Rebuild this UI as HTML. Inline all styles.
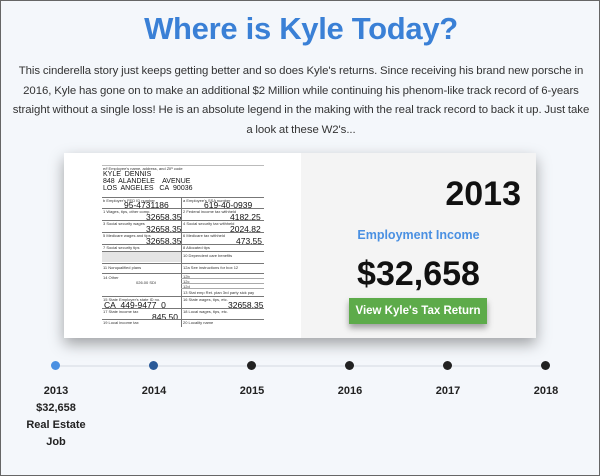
<!DOCTYPE html>
<html><head><meta charset="utf-8"><style>
*{margin:0;padding:0;box-sizing:border-box}
body{width:600px;height:476px;background:#f4f7fb;font-family:"Liberation Sans",sans-serif;position:relative;overflow:hidden;border:1px solid #666}
.a{position:absolute}
h1{position:absolute;left:0;width:600px;top:10px;text-align:center;font-size:31px;font-weight:bold;color:#3a80d6;letter-spacing:-0.3px}
.p{position:absolute;left:0;width:600px;top:61px;text-align:center;font-size:11.4px;line-height:19.5px;color:#333;word-spacing:-0.3px;letter-spacing:-0.05px;white-space:nowrap}
.card{position:absolute;left:63px;top:152px;width:472px;height:185px;background:#fff;box-shadow:0 6px 14px rgba(0,0,0,.35)}
.right{position:absolute;left:237px;top:0;width:235px;height:185px;background:#f4f4f4}
.f{position:absolute;font-size:4px;color:#333;white-space:nowrap}
.v{position:absolute;font-size:8.5px;color:#111;white-space:nowrap}
.hl{position:absolute;height:1px;background:#777}
.vl{position:absolute;width:1px;background:#777}
.dot{position:absolute;top:360px;width:9px;height:9px;border-radius:50%;background:#222}
.lb{position:absolute;width:80px;text-align:center;font-size:11px;font-weight:bold;color:#222}
</style></head><body>
<h1>Where is Kyle Today?</h1>
<div class="p">This cinderella story just keeps getting better and so does Kyle's returns. Since receiving his brand new porsche in<br>2016, Kyle has gone on to make an additional $2 Million while continuing his phenom-like track record of 6-years<br>straight without a single loss! He is an absolute legend in the making with the real track record to back it up. Just take<br>a look at these W2's...</div>
<div class="card">
 <div class="hl" style="left:38px;top:12px;width:162px;background:#bbb"></div>
 <div class="f" style="left:39px;top:13px">e/f Employee's name, address, and ZIP code</div>
 <div class="v" style="left:39px;top:18px;font-size:7px">KYLE&nbsp; DENNIS</div>
 <div class="v" style="left:39px;top:25px;font-size:7px">848&nbsp; ALANDELE&nbsp;&nbsp;&nbsp; AVENUE</div>
 <div class="v" style="left:39px;top:32px;font-size:7px">LOS&nbsp; ANGELES&nbsp;&nbsp; CA&nbsp; 90036</div>
 <div class="hl" style="left:38px;top:44px;width:162px"></div>
 <div class="vl" style="left:117px;top:44px;height:130px"></div>
 <div class="f" style="left:39px;top:45px">b Employer's FED ID number</div><div class="v" style="left:60px;top:47px">95-4731186</div>
 <div class="f" style="left:119px;top:45px">a Employee's SSA number</div><div class="v" style="left:140px;top:47px">619-40-0939</div>
 <div class="hl" style="left:38px;top:55px;width:162px"></div>
 <div class="f" style="left:39px;top:56px">1 Wages, tips, other comp.</div><div class="v" style="left:82px;top:59px">32658.35</div>
 <div class="f" style="left:119px;top:56px">2 Federal income tax withheld</div><div class="v" style="left:166px;top:59px">4182.25</div>
 <div class="hl" style="left:38px;top:67px;width:162px"></div>
 <div class="f" style="left:39px;top:68px">3 Social security wages</div><div class="v" style="left:82px;top:71px">32658.35</div>
 <div class="f" style="left:119px;top:68px">4 Social security tax withheld</div><div class="v" style="left:166px;top:71px">2024.82</div>
 <div class="hl" style="left:38px;top:79px;width:162px"></div>
 <div class="f" style="left:39px;top:80px">5 Medicare wages and tips</div><div class="v" style="left:82px;top:83px">32658.35</div>
 <div class="f" style="left:119px;top:80px">6 Medicare tax withheld</div><div class="v" style="left:172px;top:83px">473.55</div>
 <div class="hl" style="left:38px;top:91px;width:162px"></div>
 <div class="f" style="left:39px;top:92px">7 Social security tips</div><div class="f" style="left:119px;top:92px">8 Allocated tips</div>
 <div class="hl" style="left:38px;top:98px;width:162px"></div>
 <div class="a" style="left:38px;top:99px;width:79px;height:10px;background:#e4e4e4"></div>
 <div class="f" style="left:119px;top:100px">10 Dependent care benefits</div>
 <div class="hl" style="left:38px;top:110px;width:162px"></div>
 <div class="f" style="left:39px;top:112px">11 Nonqualified plans</div><div class="f" style="left:119px;top:112px">12a See instructions for box 12</div>
 <div class="hl" style="left:38px;top:120px;width:162px"></div>
 <div class="f" style="left:39px;top:122px">14 Other</div><div class="f" style="left:72px;top:127px">026.00 SDI</div>
 <div class="f" style="left:119px;top:121px">12b</div><div class="f" style="left:119px;top:126px">12c</div><div class="f" style="left:119px;top:131px">12d</div>
 <div class="hl" style="left:117px;top:125px;width:83px;background:#aaa"></div>
 <div class="hl" style="left:117px;top:130px;width:83px;background:#aaa"></div>
 <div class="hl" style="left:117px;top:135px;width:83px;background:#aaa"></div>
 <div class="f" style="left:119px;top:137px">13 Stat emp Ret. plan 3rd party sick pay</div>
 <div class="hl" style="left:38px;top:143px;width:162px"></div>
 <div class="f" style="left:39px;top:144px">15 State Employer's state ID no.</div><div class="v" style="left:40px;top:147px">CA&nbsp; 449-9477&nbsp; 0</div>
 <div class="f" style="left:119px;top:144px">16 State wages, tips, etc.</div><div class="v" style="left:164px;top:147px">32658.35</div>
 <div class="hl" style="left:38px;top:155px;width:162px"></div>
 <div class="f" style="left:39px;top:156px">17 State income tax</div><div class="v" style="left:88px;top:159px">845.50</div>
 <div class="f" style="left:119px;top:156px">18 Local wages, tips, etc.</div>
 <div class="hl" style="left:38px;top:166px;width:162px"></div>
 <div class="f" style="left:39px;top:167px">19 Local income tax</div><div class="f" style="left:119px;top:167px">20 Locality name</div>
 <div class="right">
  <div class="a" style="right:15px;top:22px;font-size:34px;font-weight:bold;color:#111">2013</div>
  <div class="a" style="left:0;width:235px;top:75px;text-align:center;font-size:12.5px;font-weight:bold;color:#4a90e2">Employment Income</div>
  <div class="a" style="left:0;width:235px;top:102px;text-align:center;font-size:34px;font-weight:bold;color:#111">$32,658</div>
  <div class="a" style="left:48px;top:145px;width:138px;height:26px;background:#5dab4a;color:#fff;font-size:11.5px;font-weight:bold;text-align:center;line-height:26px;box-shadow:0 4px 6px rgba(0,0,0,.35)">View Kyle's Tax Return</div>
 </div>
</div>
<div class="a" style="left:55px;top:364px;width:490px;height:2px;background:#e4e8ee"></div>
<div class="dot" style="left:50px;background:#4a90e2"></div>
<div class="dot" style="left:148px;background:#2a5a98"></div>
<div class="dot" style="left:246px"></div>
<div class="dot" style="left:344px"></div>
<div class="dot" style="left:442px"></div>
<div class="dot" style="left:540px"></div>
<div class="lb" style="left:15px;top:384px">2013</div>
<div class="lb" style="left:15px;top:401px">$32,658</div>
<div class="lb" style="left:15px;top:418px">Real Estate</div>
<div class="lb" style="left:15px;top:435px">Job</div>
<div class="lb" style="left:113px;top:384px">2014</div>
<div class="lb" style="left:211px;top:384px">2015</div>
<div class="lb" style="left:309px;top:384px">2016</div>
<div class="lb" style="left:407px;top:384px">2017</div>
<div class="lb" style="left:505px;top:384px">2018</div>
</body></html>
